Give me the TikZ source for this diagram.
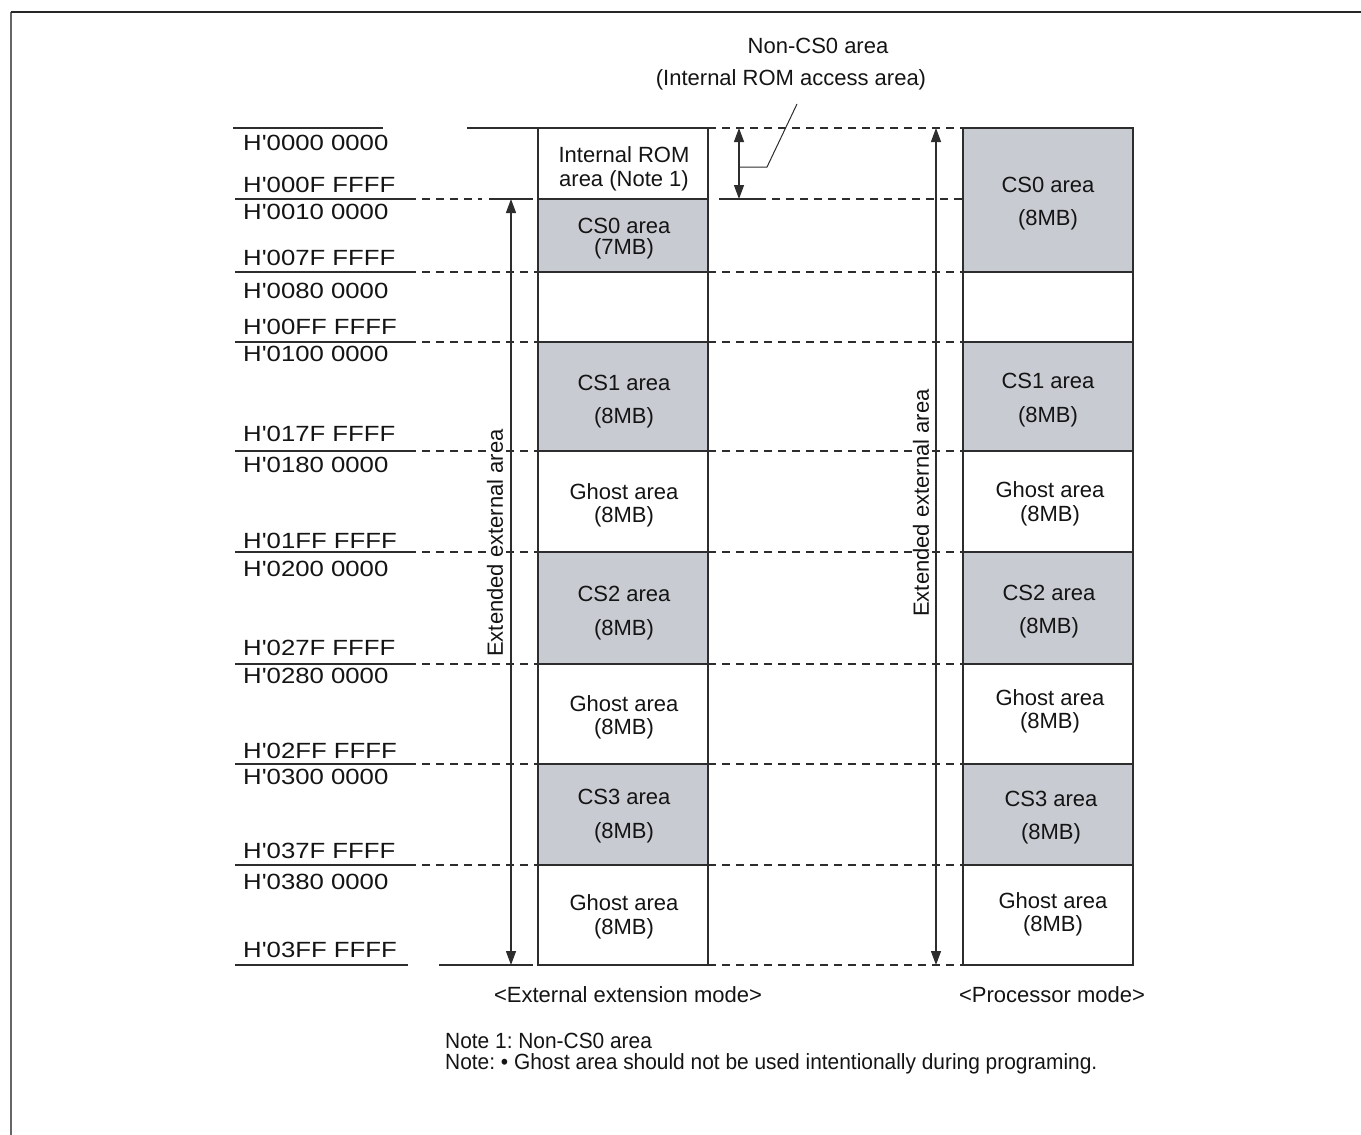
\documentclass[tikz,border=0pt]{standalone}
\usepackage{fontspec}
\setmainfont{Liberation Sans}
\newfontfamily\addrfont[FakeStretch=1.17]{Liberation Sans}
\newfontfamily\notefont[FakeStretch=0.95]{Liberation Sans}
\usetikzlibrary{arrows.meta}
\definecolor{areagray}{RGB}{200,203,210}
\definecolor{linecol}{RGB}{45,45,45}
\definecolor{txtcol}{RGB}{20,20,20}
\frenchspacing
\begin{document}
\begin{tikzpicture}[x=1pt,y=-1pt,
  every node/.style={inner sep=0pt, font=\fontsize{22}{26}\selectfont, text=txtcol},
  addr/.style={anchor=west, font=\addrfont\fontsize{22}{26}\selectfont},
  memline/.style={draw=linecol, line width=1.3pt},
  dashline/.style={draw=linecol, line width=1.3pt, dash pattern=on 8pt off 6pt},
  csbox/.style={draw=linecol, line width=1.3pt, fill=areagray},
  plainbox/.style={draw=linecol, line width=1.3pt, fill=white},
  dimarrow/.style={draw=linecol, line width=1.3pt, {Triangle[length=14pt,width=10pt]}-{Triangle[length=14pt,width=10pt]}},
  leader/.style={draw=linecol, line width=1pt},
  vlabel/.style={rotate=90, fill=white, inner sep=1pt},
  note/.style={anchor=west, font=\notefont\fontsize{22}{26}\selectfont},
]
\useasboundingbox (0,0) rectangle (1361,1135);
% frame
\draw[line width=1.5pt, black!60] (11,1135) -- (11,12);
\draw[line width=1.5pt, black!85] (11,12) -- (1361,12);

% address lines left
\draw[memline] (233,128) -- (383,128);
\draw[memline] (467,128) -- (538,128);
\draw[memline] (235,199) -- (408,199);
\draw[dashline] (408,199) -- (482,199);
\draw[memline] (489,199) -- (533,199);
\foreach \y in {272,342,451,552,664,764,865}{
  \draw[memline] (235,\y) -- (408,\y);
  \draw[dashline] (408,\y) -- (538,\y);
}
\draw[memline] (235,965) -- (408,965);
\draw[memline] (439,965) -- (533,965);

% lines between columns
\draw[dashline] (708,128) -- (963,128);
\draw[memline] (719,199) -- (758,199);
\draw[dashline] (758,199) -- (963,199);
\foreach \y in {272,342,451,552,664,764,865,965}{
  \draw[dashline] (708,\y) -- (963,\y);
}

% left column boxes
\draw[plainbox] (538,128) rectangle (708,199);
\draw[csbox]    (538,199) rectangle (708,272);
\draw[plainbox] (538,272) rectangle (708,342);
\draw[csbox]    (538,342) rectangle (708,451);
\draw[plainbox] (538,451) rectangle (708,552);
\draw[csbox]    (538,552) rectangle (708,664);
\draw[plainbox] (538,664) rectangle (708,764);
\draw[csbox]    (538,764) rectangle (708,865);
\draw[plainbox] (538,865) rectangle (708,965);

% right column boxes
\draw[csbox]    (963,128) rectangle (1133,272);
\draw[plainbox] (963,272) rectangle (1133,342);
\draw[csbox]    (963,342) rectangle (1133,451);
\draw[plainbox] (963,451) rectangle (1133,552);
\draw[csbox]    (963,552) rectangle (1133,664);
\draw[plainbox] (963,664) rectangle (1133,764);
\draw[csbox]    (963,764) rectangle (1133,865);
\draw[plainbox] (963,865) rectangle (1133,965);

% address labels
\node[addr] (a00) at (243,143) {H'0000 0000};
\node[addr] (a01) at (243,185) {H'000F FFFF};
\node[addr] (a02) at (243,212) {H'0010 0000};
\node[addr] (a03) at (243,258) {H'007F FFFF};
\node[addr] (a04) at (243,291) {H'0080 0000};
\node[addr] (a05) at (243,327) {H'00FF FFFF};
\node[addr] (a06) at (243,354) {H'0100 0000};
\node[addr] (a07) at (243,434) {H'017F FFFF};
\node[addr] (a08) at (243,465) {H'0180 0000};
\node[addr] (a09) at (243,541) {H'01FF FFFF};
\node[addr] (a10) at (243,569) {H'0200 0000};
\node[addr] (a11) at (243,648) {H'027F FFFF};
\node[addr] (a12) at (243,676) {H'0280 0000};
\node[addr] (a13) at (243,751) {H'02FF FFFF};
\node[addr] (a14) at (243,777) {H'0300 0000};
\node[addr] (a15) at (243,851) {H'037F FFFF};
\node[addr] (a16) at (243,882) {H'0380 0000};
\node[addr] (a17) at (243,950) {H'03FF FFFF};

% left column texts
\node (l1a) at (624,155) {Internal ROM};
\node (l1b) at (624,181) {area (Note 1)};
\node (l2a) at (624,226) {CS0 area};
\node (l2b) at (624,249) {(7MB)};
\node (l3a) at (624,383) {CS1 area};
\node (l3b) at (624,418) {(8MB)};
\node (l4a) at (624,492) {Ghost area};
\node (l4b) at (624,517) {(8MB)};
\node (l5a) at (624,594) {CS2 area};
\node (l5b) at (624,630) {(8MB)};
\node (l6a) at (624,704) {Ghost area};
\node (l6b) at (624,729) {(8MB)};
\node (l7a) at (624,797) {CS3 area};
\node (l7b) at (624,833) {(8MB)};
\node (l8a) at (624,903) {Ghost area};
\node (l8b) at (624,929) {(8MB)};

% right column texts
\node (r1a) at (1048,185) {CS0 area};
\node (r1b) at (1048,220) {(8MB)};
\node (r3a) at (1048,381) {CS1 area};
\node (r3b) at (1048,417) {(8MB)};
\node (r4a) at (1050,490) {Ghost area};
\node (r4b) at (1050,516) {(8MB)};
\node (r5a) at (1049,593) {CS2 area};
\node (r5b) at (1049,628) {(8MB)};
\node (r6a) at (1050,698) {Ghost area};
\node (r6b) at (1050,723) {(8MB)};
\node (r7a) at (1051,799) {CS3 area};
\node (r7b) at (1051,834) {(8MB)};
\node (r8a) at (1053,901) {Ghost area};
\node (r8b) at (1053,926) {(8MB)};

% dimension arrows
\coordinate (lt) at (511,199);
\coordinate (lb) at (511,965);
\coordinate (rt) at (936,128);
\coordinate (rb) at (936,965);
\coordinate (st) at (739,128);
\coordinate (sb) at (739,199);
\draw[dimarrow] (lt) -- (lb);
\draw[dimarrow] (rt) -- (rb);
\draw[dimarrow] (st) -- (sb);
\node[vlabel] (extL) at (495,543) {Extended external area};
\node[vlabel] (extR) at (921,503) {Extended external area};

% non-CS0 callout
\node (nc1) at (818,46) {Non-CS0 area};
\node (nc2) at (791,80) {(Internal ROM access area)};
\coordinate (ls) at (739,167);
\coordinate (lk) at (767,167);
\coordinate (le) at (797,104);
\draw[leader] (ls) -- (lk) -- (le);

% mode captions
\node (capL) at (628,995) {<External extension mode>};
\node (capR) at (1052,995) {<Processor mode>};

% notes
\node[note] (n1) at (445,1041) {Note 1: Non-CS0 area};
\node[note] (n2) at (445,1064) {Note: • Ghost area should not be used intentionally during programing.};
\end{tikzpicture}
\end{document}
